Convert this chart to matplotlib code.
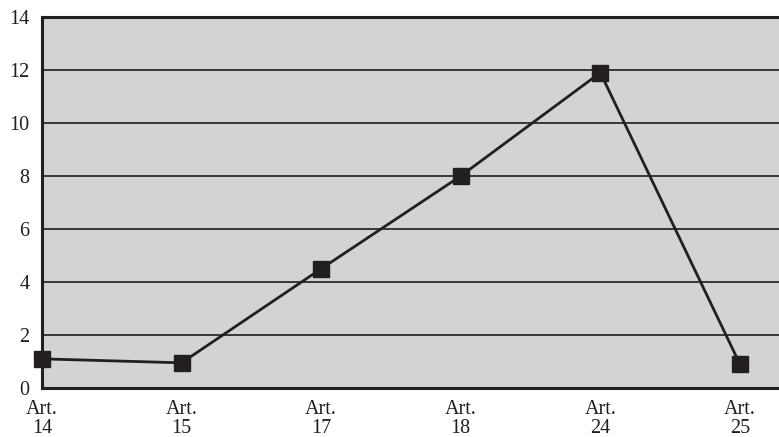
import matplotlib.pyplot as plt

articles = ['14', '15', '17', '18', '24', '25']
counts = [1.1, 0.95, 4.5, 8.0, 11.9, 0.9]
x_labels = ['Art.\n' + a for a in articles]

plt.rcParams['font.family'] = ['Liberation Serif', 'DejaVu Serif']

fig = plt.figure(figsize=(7.79, 4.37), dpi=100)
ax = fig.add_axes([42 / 779, 1 - 388 / 437, 1 - 42 / 779, (388 - 17) / 437])
ax.set_facecolor('#d2d3d5')

x = range(len(articles))
ax.plot(x, counts, color='#231f20', linewidth=2, marker='s', markersize=11,
        markerfacecolor='#231f20', markeredgecolor='#231f20', clip_on=False, zorder=3)

ax.set_xlim(0, 5.28)
ax.set_ylim(0, 14)
ax.set_yticks(range(0, 15, 2))
ax.set_xticks(list(x))
ax.set_xticklabels(x_labels, linespacing=0.95)
ax.tick_params(length=0, labelsize=14.5, colors='#231f20')
ax.tick_params(axis='x', pad=9)
ax.tick_params(axis='y', pad=9)

ax.yaxis.grid(True, color='#2b2b2b', linewidth=1.3)
ax.set_axisbelow(True)
for side in ['left', 'top', 'bottom']:
    ax.spines[side].set_color('#231f20')
    ax.spines[side].set_linewidth(2.2)
ax.spines['right'].set_visible(False)

fig.savefig('out.png', dpi=100)
